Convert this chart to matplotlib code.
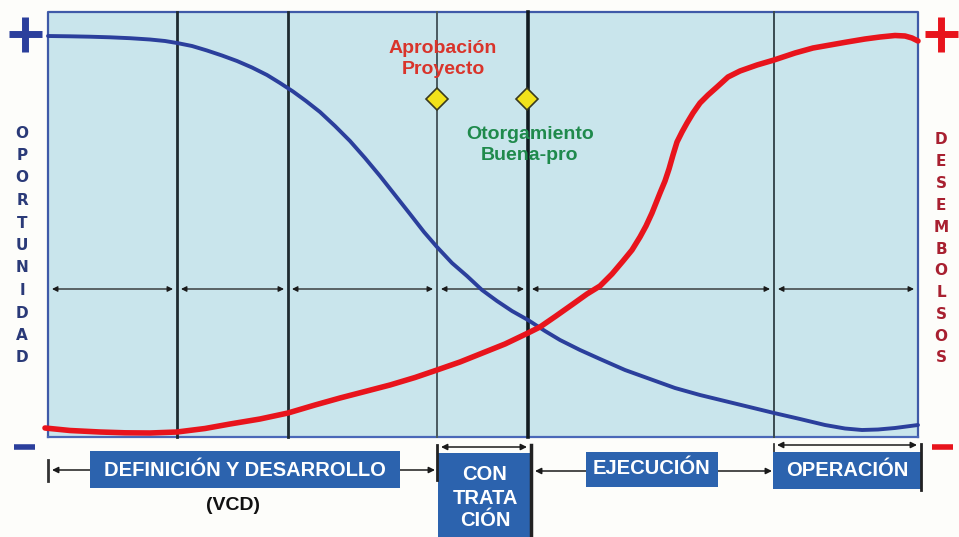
import numpy as np
import matplotlib.pyplot as plt
from matplotlib.patches import Rectangle

plt.rcParams["font.family"] = ["Liberation Sans", "DejaVu Sans"]
plt.rcParams["font.weight"] = "bold"

# phase boundaries along the time axis
phase_edges = [48, 177, 288, 437, 528, 774, 918]

# Oportunidad (blue) curve
blue_x = [48, 70, 90, 110, 130, 150, 165, 177, 192, 207, 222, 237, 252, 267,
          280, 293, 306, 320, 335, 350, 365, 380, 395, 410, 424, 437, 452, 467,
          482, 497, 512, 528, 545, 560, 580, 600, 625, 650, 675, 700, 737, 774,
          800, 825, 845, 862, 878, 895, 918]
blue_y = [36, 36.3, 36.7, 37.3, 38.2, 39.5, 41, 43, 46, 50.5, 55.5, 61, 67.5, 75,
          83, 91.5, 101, 112, 126, 141, 158, 176, 195, 214, 232, 247, 263, 276,
          290, 301, 311, 320, 331, 340, 350, 359, 370, 379, 388, 395, 404, 413,
          419, 425, 428.5, 430, 429.5, 428, 425]

# Desembolsos (red) curve
red_x = [45, 70, 100, 125, 150, 177, 205, 230, 260, 288, 315, 340, 365, 390,
         415, 437, 460, 480, 505, 528, 540, 556, 573, 587, 600, 612, 623, 632,
         640, 646, 652, 660, 665, 669, 673, 677, 682, 687, 693, 700, 708, 717,
         728, 740, 757, 774, 795, 813, 830, 847, 865, 880, 895, 905, 912, 918]
red_y = [428, 430.5, 432, 432.8, 433, 432, 428.5, 424, 419, 413, 405, 398, 391.5,
         385, 377.5, 370, 362, 354, 344, 333, 327, 316, 304, 294, 286, 274, 261,
         250, 237, 226, 213, 193, 181, 169, 155, 142, 132, 123, 113, 103, 95,
         87, 77, 71, 65, 60, 53, 48, 45, 42, 39, 37, 35.5, 36, 38, 41]

milestones = ["Aprobación\nProyecto", "Otorgamiento\nBuena-pro"]
left_word = "OPORTUNIDAD"
right_word = "DESEMBOLSOS"

fig = plt.figure(figsize=(9.59, 5.37), dpi=100)
fig.patch.set_facecolor("#fdfdfa")
ax = fig.add_axes([0, 0, 1, 1])
ax.set_xlim(0, 959)
ax.set_ylim(537, 0)
ax.axis("off")

x0, x1 = phase_edges[0], phase_edges[-1]
top, bot = 12, 437
ax.add_patch(Rectangle((x0, top), x1 - x0, bot - top, facecolor="#c9e5ec",
                       edgecolor="none", zorder=0))
ax.plot([x0, x0, x1, x1], [bot, top, top, bot], color="#3f5aa8", lw=1.6, zorder=1)
ax.plot([x0, x1], [bot, bot], color="#4a68b8", lw=1.6, zorder=1)

# vertical phase lines
line_style = {177: ("#1e2a30", 2.0), 288: ("#1e2a30", 2.0), 437: ("#4a5a60", 1.4),
              528: ("#111a20", 2.6), 774: ("#3a4a50", 1.4)}
for xe in phase_edges[1:-1]:
    c, w = line_style[xe]
    ax.plot([xe, xe], [top, bot], color=c, lw=w, zorder=2)

# double arrows in each phase
for a, b in zip(phase_edges[:-1], phase_edges[1:]):
    ax.annotate("", xy=(b - 4, 289), xytext=(a + 4, 289),
                arrowprops=dict(arrowstyle="<|-|>", color="#1a1a1a", lw=0.9,
                                mutation_scale=8, shrinkA=0, shrinkB=0), zorder=3)

ax.plot(blue_x, blue_y, color="#2b3f9c", lw=2.8, zorder=4, solid_capstyle="round",
        solid_joinstyle="round")
ax.plot(red_x, red_y, color="#e8141c", lw=4.0, zorder=5, solid_capstyle="round",
        solid_joinstyle="round")

# milestones
ax.plot([437, 527], [99, 99], linestyle="none", marker="D", markersize=11,
        markerfacecolor="#f2e21a", markeredgecolor="#3a3a20", markeredgewidth=1.2,
        zorder=6)
ax.text(443, 59, milestones[0], color="#d9342b", fontsize=14, ha="center",
        va="center", linespacing=1.35, zorder=7)
ax.text(530, 145, milestones[1], color="#1f8a4c", fontsize=14, ha="center",
        va="center", linespacing=1.25, zorder=7)

# plus / minus signs
ax.plot([9, 42], [34, 34], color="#2b3f9c", lw=5, solid_capstyle="butt")
ax.plot([25, 25], [17, 52], color="#2b3f9c", lw=5, solid_capstyle="butt")
ax.plot([925, 958], [34, 34], color="#e8141c", lw=5, solid_capstyle="butt")
ax.plot([941, 941], [17, 52], color="#e8141c", lw=5, solid_capstyle="butt")
ax.plot([14, 35], [447, 447], color="#2b3f9c", lw=4, solid_capstyle="butt")
ax.plot([932, 953], [447, 447], color="#e8141c", lw=4, solid_capstyle="butt")

# vertical stacked words
for ys, word, xc, col in [(133, left_word, 22, "#2a3a78"),
                          (140, right_word, 941, "#a82030")]:
    step = (358 - ys) / (len(word) - 1)
    for i, ch in enumerate(word):
        ax.text(xc, ys + i * step, ch, color=col, fontsize=11, family="DejaVu Sans",
                ha="center", va="center")

# bottom phase boxes
box_c = "#2c63ae"


def arrow(xa, xb, y, style="<|-|>"):
    ax.annotate("", xy=(xb, y), xytext=(xa, y),
                arrowprops=dict(arrowstyle=style, color="#1a1a1a", lw=1.1,
                                mutation_scale=9, shrinkA=0, shrinkB=0), zorder=2)


def box(x, y, w, h):
    ax.add_patch(Rectangle((x, y), w, h, facecolor=box_c, edgecolor="none",
                           clip_on=False, zorder=4))


arrow(52, 435, 470)
ax.plot([48, 48], [460, 481], color="#333333", lw=2)
box(90, 451, 310, 37)
ax.text(245, 470, "DEFINICIÓN Y DESARROLLO", color="white", fontsize=14.5,
        ha="center", va="center", zorder=5)
ax.text(233, 506, "(VCD)", color="#111111", fontsize=14, ha="center", va="center")

box(438, 453, 95, 90)
ax.plot([437, 437], [445, 480], color="#222222", lw=2, zorder=5)
ax.plot([531, 531], [445, 537], color="#222222", lw=2.5, zorder=5)
arrow(441, 527, 447)
for yy, part in zip([475, 498, 520], ["CON", "TRATA", "CIÓN"]):
    ax.text(485, yy, part, color="white", fontsize=14.5, ha="center", va="center",
            zorder=5)

arrow(535, 772, 471)
box(586, 452, 132, 35)
ax.text(652, 469, "EJECUCIÓN", color="white", fontsize=14.5, ha="center",
        va="center", zorder=5)

box(773, 452, 148, 37)
ax.plot([921, 921], [444, 490], color="#222222", lw=2, zorder=5)
ax.plot([774, 774], [444, 452], color="#222222", lw=1.2)
arrow(777, 917, 445)
ax.text(847, 470, "OPERACIÓN", color="white", fontsize=14.5, ha="center",
        va="center", zorder=5)

fig.savefig("out.png", dpi=100, facecolor=fig.get_facecolor())
